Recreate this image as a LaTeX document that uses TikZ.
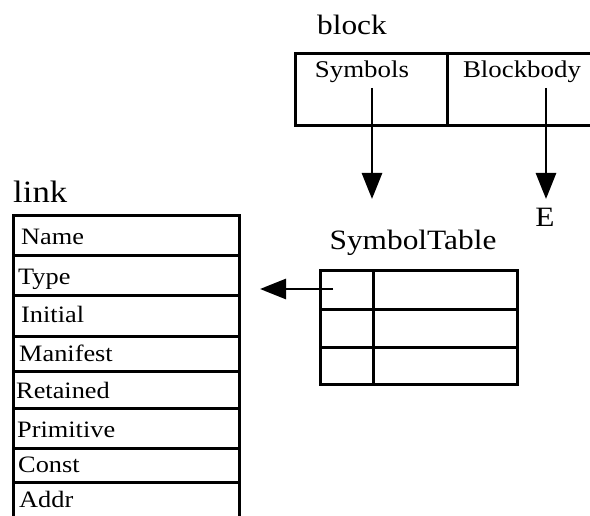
\documentclass[tikz,border=0pt]{standalone}
\usepackage{fontspec}
\setmainfont{Liberation Serif}[FakeStretch=1.12]
\usetikzlibrary{arrows.meta,calc}
\begin{document}
\begin{tikzpicture}[x=1pt,y=-1pt,
  box/.style={draw,line width=2.8pt,inner sep=0pt,anchor=north west},
  ptr/.style={line width=2.8pt,-{Triangle[length=26pt,width=20pt]}},
  title/.style={font=\fontsize{28}{32}\selectfont,inner sep=0pt,anchor=base},
  field/.style={font=\fontsize{23.5}{28}\selectfont,inner sep=0pt,anchor=base west},
  cell/.style={font=\fontsize{24}{28}\selectfont,inner sep=0pt,anchor=base}]
\useasboundingbox (0,0) rectangle (590,516);
\clip (0,0) rectangle (590,516);

% ---- block record ----
\node[title] (blocktitle) at (352,35) {block};
\node[box,minimum width=152pt,minimum height=72pt] (symcell) at (294,52) {};
\node[box,minimum width=160pt,minimum height=72pt] (bodycell) at (446,52) {};
\node[cell] (symtxt) at (362,78) {Symbols};
\node[cell] (bodytxt) at (522,78) {Blockbody};
\coordinate (symsrc) at (372,88);
\coordinate (bodysrc) at (546,88);
\coordinate (symdst) at (372,199);
\coordinate (bodydst) at (546,199);
\node[title] (E) at (545,227) {E};

% ---- link record ----
\node[title,anchor=base west,font=\fontsize{31}{34}\selectfont] (linktitle) at (13,203) {link};
\node[box,minimum width=226pt,minimum height=40pt] (rName) at (12,214) {};
\node[box,minimum width=226pt,minimum height=40pt] (rType) at (12,254) {};
\node[box,minimum width=226pt,minimum height=41pt] (rInitial) at (12,294) {};
\node[box,minimum width=226pt,minimum height=35pt] (rManifest) at (12,335) {};
\node[box,minimum width=226pt,minimum height=37pt] (rRetained) at (12,370) {};
\node[box,minimum width=226pt,minimum height=40pt] (rPrimitive) at (12,407) {};
\node[box,minimum width=226pt,minimum height=34pt] (rConst) at (12,447) {};
\node[box,minimum width=226pt,minimum height=45pt] (rAddr) at (12,481) {};
\node[field] (tName) at (21,245) {Name};
\node[field] (tType) at (18,285) {Type};
\node[field] (tInitial) at (21,323) {Initial};
\node[field] (tManifest) at (19,362) {Manifest};
\node[field] (tRetained) at (16,399) {Retained};
\node[field] (tPrimitive) at (17,437) {Primitive};
\node[field] (tConst) at (18,472) {Const};
\node[field] (tAddr) at (19,507) {Addr};

% ---- symbol table ----
\node[title] (sttitle) at (413,250) {SymbolTable};
\node[box,minimum width=53pt,minimum height=39pt] (st11) at (319,269) {};
\node[box,minimum width=144pt,minimum height=39pt] (st12) at (372,269) {};
\node[box,minimum width=53pt,minimum height=38pt] (st21) at (319,308) {};
\node[box,minimum width=144pt,minimum height=38pt] (st22) at (372,308) {};
\node[box,minimum width=53pt,minimum height=37pt] (st31) at (319,346) {};
\node[box,minimum width=144pt,minimum height=37pt] (st32) at (372,346) {};
\coordinate (stsrc) at (333,289);
\coordinate (typedst) at (260,289);

% ---- pointers ----
\draw[ptr] (symsrc) -- (symdst);
\draw[ptr] (bodysrc) -- (bodydst);
\draw[ptr] (stsrc) -- (typedst);
\end{tikzpicture}
\end{document}
